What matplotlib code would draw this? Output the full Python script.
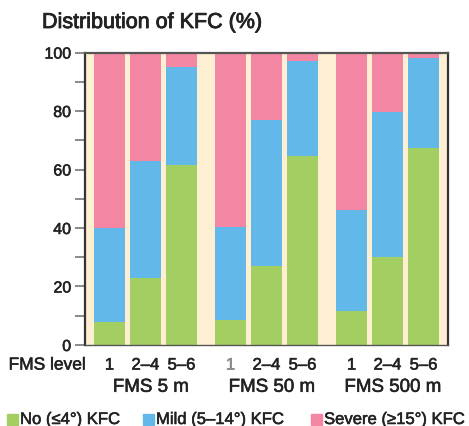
import numpy as np
import matplotlib.pyplot as plt
import matplotlib.patheffects as pe
from matplotlib.patches import Rectangle

plt.rcParams['font.family'] = ['Liberation Sans', 'DejaVu Sans']

# Data (% of patients)
groups = ['FMS 5 m', 'FMS 50 m', 'FMS 500 m']
levels = ['1', '2\u20134', '5\u20136']
no_kfc = [8, 23, 61.5, 8.5, 27, 64.5, 11.5, 30, 67.5]
mild_kfc = [32, 40, 33.5, 32, 50, 32.5, 34.5, 49.5, 30.5]
severe_kfc = [60, 37, 5, 59.5, 23, 3, 54, 20.5, 2]

green = '#a3cf62'
blue = '#62b8e8'
pink = '#f386a2'
cream = '#ffefd2'
frame = '#333333'
ink = '#222222'

# slightly heavier text, like the original's medium weight
heavy = [pe.withStroke(linewidth=0.4, foreground=ink)]

fig = plt.figure(figsize=(4.69, 4.27), dpi=100)
ax = fig.add_axes([0.1812, 0.1897, 0.9552 - 0.1812, 0.8747 - 0.1897])
ax.set_facecolor(cream)

gap = 121 / 36
x = np.array([g * gap + i for g in range(len(groups)) for i in range(len(levels))])
w = 0.86

no = np.array(no_kfc)
mild = np.array(mild_kfc)
sev = np.array(severe_kfc)
ax.bar(x, no, w, color=green, zorder=2)
ax.bar(x, mild, w, bottom=no, color=blue, zorder=2)
ax.bar(x, sev, w, bottom=no + mild, color=pink, zorder=2)

ax.set_xlim(-0.68, 9.40)
ax.set_ylim(0, 100)
ax.set_yticks([0, 20, 40, 60, 80, 100])
ax.set_yticks([10, 30, 50, 70, 90], minor=True)
ax.tick_params(axis='y', which='both', length=7, width=1.2, color='#777777',
               labelsize=11.5, labelcolor=ink, pad=3)
ax.set_xticks([])
for t in ax.get_yticklabels():
    t.set_path_effects(heavy)

for s in ['left', 'right', 'top']:
    ax.spines[s].set_color(frame)
    ax.spines[s].set_linewidth(1.6)
ax.spines['top'].set_color('#555555')
ax.spines['bottom'].set_color('#555555')
ax.spines['bottom'].set_linewidth(1.0)

# level labels under each bar
for k, xi in enumerate(x):
    col = '#888888' if k == 3 else ink
    ax.text(xi, -8.4, levels[k % 3], ha='center', va='baseline', fontsize=12,
            color=col, clip_on=False,
            path_effects=[pe.withStroke(linewidth=0.4, foreground=col)])
ax.text(-0.66, -8.4, 'FMS level', ha='right', va='baseline', fontsize=12.5,
        color=ink, clip_on=False, path_effects=heavy)

for g, name in enumerate(groups):
    ax.text(g * gap + 1.15, -16.0, name, ha='center', va='baseline', fontsize=13.5,
            color=ink, clip_on=False, path_effects=heavy)

fig.text(42 / 469, 1 - 29 / 427, 'Distribution of KFC (%)', ha='left', va='baseline',
         fontsize=15.5, color=ink,
         path_effects=[pe.withStroke(linewidth=0.6, foreground=ink)])

# legend row
legend_items = [('No (\u22644\u00b0) KFC', green, 7),
                ('Mild (5\u201314\u00b0) KFC', blue, 143),
                ('Severe (\u226515\u00b0) KFC', pink, 311)]
for label, col, px in legend_items:
    fig.patches.append(Rectangle((px / 469, 1 - 426 / 427), 11 / 469, 11 / 427,
                                 transform=fig.transFigure, color=col))
    fig.text((px + 13) / 469, 1 - 425 / 427, label, ha='left', va='baseline',
             fontsize=12, color=ink, path_effects=heavy)

fig.savefig('out.png', dpi=100)
